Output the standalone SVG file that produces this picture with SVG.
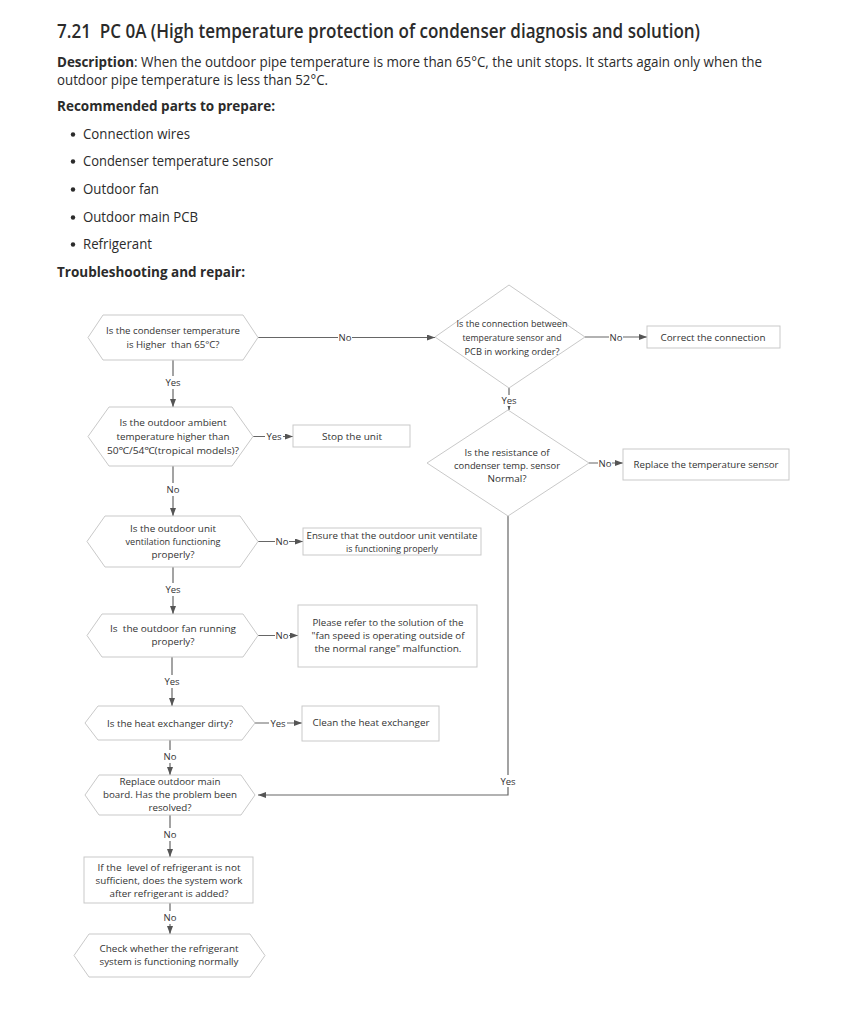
<svg xmlns="http://www.w3.org/2000/svg" width="864" height="1024" viewBox="0 0 864 1024">
<style>
  .h{font-family:"Open Sans","Noto Sans",sans-serif;fill:#2b2b2b}
  .t{font-family:"Open Sans","Noto Sans",sans-serif;font-size:9.5px;fill:#333;text-anchor:middle}
  .lbl{font-family:"Open Sans","Noto Sans",sans-serif;font-size:9.5px;fill:#333;text-anchor:middle}
  .bg{fill:#fff;stroke:none}
  .shape{fill:#fff;stroke:#c9c9c9;stroke-width:1}
  .conn{fill:none;stroke:#666;stroke-width:1.2}
</style>
<defs>
  <marker id="ah" markerWidth="8" markerHeight="6" refX="8" refY="3" orient="auto" markerUnits="userSpaceOnUse">
    <path d="M0,0 L8,3 L0,6 z" fill="#555"/>
  </marker>
</defs>
<rect width="864" height="1024" fill="#fff"/>

<g id="header">
  <text class="h" x="57" y="38" font-size="19" font-weight="600" textLength="643" lengthAdjust="spacingAndGlyphs" xml:space="preserve">7.21  PC 0A (High temperature protection of condenser diagnosis and solution)</text>
  <text class="h" x="57" y="67" font-size="14" font-weight="700" textLength="77" lengthAdjust="spacingAndGlyphs">Description</text>
  <text class="h" x="134" y="67" font-size="14" textLength="628" lengthAdjust="spacingAndGlyphs">: When the outdoor pipe temperature is more than 65°C, the unit stops. It starts again only when the</text>
  <text class="h" x="57" y="85" font-size="14" textLength="271" lengthAdjust="spacingAndGlyphs">outdoor pipe temperature is less than 52°C.</text>
  <text class="h" x="57" y="111" font-size="14" font-weight="700" textLength="218" lengthAdjust="spacingAndGlyphs">Recommended parts to prepare:</text>
  <circle cx="73" cy="134.5" r="2.2" fill="#2b2b2b"/>
  <text class="h" x="83" y="139" font-size="14" textLength="107" lengthAdjust="spacingAndGlyphs">Connection wires</text>
  <circle cx="73" cy="161.5" r="2.2" fill="#2b2b2b"/>
  <text class="h" x="83" y="166" font-size="14" textLength="190" lengthAdjust="spacingAndGlyphs">Condenser temperature sensor</text>
  <circle cx="73" cy="189.5" r="2.2" fill="#2b2b2b"/>
  <text class="h" x="83" y="194" font-size="14" textLength="76" lengthAdjust="spacingAndGlyphs">Outdoor fan</text>
  <circle cx="73" cy="217.5" r="2.2" fill="#2b2b2b"/>
  <text class="h" x="83" y="222" font-size="14" textLength="115" lengthAdjust="spacingAndGlyphs">Outdoor main PCB</text>
  <circle cx="73" cy="244.5" r="2.2" fill="#2b2b2b"/>
  <text class="h" x="83" y="249" font-size="14" textLength="69" lengthAdjust="spacingAndGlyphs">Refrigerant</text>
  <text class="h" x="57" y="277" font-size="14" font-weight="700" textLength="188" lengthAdjust="spacingAndGlyphs">Troubleshooting and repair:</text>
</g>

<g id="connectors">
  <line class="conn" x1="173" y1="360" x2="173" y2="407" marker-end="url(#ah)"/>
  <rect class="bg" x="163" y="376" width="20" height="13"/>
  <text class="lbl" x="173" y="386">Yes</text>
  <line class="conn" x1="173" y1="466" x2="173" y2="516" marker-end="url(#ah)"/>
  <rect class="bg" x="164" y="483" width="18" height="13"/>
  <text class="lbl" x="173" y="493">No</text>
  <line class="conn" x1="173" y1="567" x2="173" y2="614" marker-end="url(#ah)"/>
  <rect class="bg" x="163" y="583" width="20" height="13"/>
  <text class="lbl" x="173" y="593">Yes</text>
  <line class="conn" x1="172" y1="657" x2="172" y2="706" marker-end="url(#ah)"/>
  <rect class="bg" x="162" y="675" width="20" height="13"/>
  <text class="lbl" x="172" y="685">Yes</text>
  <line class="conn" x1="170" y1="740" x2="170" y2="775" marker-end="url(#ah)"/>
  <rect class="bg" x="161" y="750" width="18" height="13"/>
  <text class="lbl" x="170" y="760">No</text>
  <line class="conn" x1="170" y1="815" x2="170" y2="857" marker-end="url(#ah)"/>
  <rect class="bg" x="161" y="828" width="18" height="13"/>
  <text class="lbl" x="170" y="838">No</text>
  <line class="conn" x1="170" y1="903" x2="170" y2="934" marker-end="url(#ah)"/>
  <rect class="bg" x="161" y="911" width="18" height="13"/>
  <text class="lbl" x="170" y="921">No</text>

  <line class="conn" x1="258" y1="337.5" x2="435" y2="337.5" marker-end="url(#ah)"/>
  <rect class="bg" x="338" y="332" width="14" height="11"/>
  <text class="lbl" x="345" y="341">No</text>
  <line class="conn" x1="585" y1="337" x2="647" y2="337" marker-end="url(#ah)"/>
  <rect class="bg" x="609" y="332" width="14" height="11"/>
  <text class="lbl" x="616" y="340.5">No</text>
  <line class="conn" x1="509" y1="388" x2="509" y2="410" marker-end="url(#ah)"/>
  <rect class="bg" x="499" y="395" width="20" height="11"/>
  <text class="lbl" x="509" y="404">Yes</text>
  <line class="conn" x1="589" y1="463" x2="623" y2="463" marker-end="url(#ah)"/>
  <rect class="bg" x="598" y="458" width="14" height="11"/>
  <text class="lbl" x="605" y="466.5">No</text>
  <polyline class="conn" points="508,516 508,795 258,795" marker-end="url(#ah)"/>
  <rect class="bg" x="498" y="775" width="20" height="12"/>
  <text class="lbl" x="508" y="784.5">Yes</text>

  <line class="conn" x1="253" y1="436.5" x2="293" y2="436.5" marker-end="url(#ah)"/>
  <rect class="bg" x="265" y="431" width="18" height="11"/>
  <text class="lbl" x="274" y="440">Yes</text>
  <line class="conn" x1="258" y1="541.5" x2="303" y2="541.5" marker-end="url(#ah)"/>
  <rect class="bg" x="275" y="536" width="14" height="11"/>
  <text class="lbl" x="282" y="545">No</text>
  <line class="conn" x1="258" y1="635.5" x2="298" y2="635.5" marker-end="url(#ah)"/>
  <rect class="bg" x="275" y="630" width="14" height="11"/>
  <text class="lbl" x="282" y="639">No</text>
  <line class="conn" x1="255" y1="723" x2="302" y2="723" marker-end="url(#ah)"/>
  <rect class="bg" x="269" y="718" width="18" height="11"/>
  <text class="lbl" x="278" y="726.5">Yes</text>
</g>

<g id="q1">
  <polygon class="shape" points="88,337.5 103,315 243,315 258,337.5 243,360 103,360"/>
  <text class="t" x="173" y="334" textLength="134" lengthAdjust="spacingAndGlyphs">Is the condenser temperature</text>
  <text class="t" x="173" y="348" textLength="93" lengthAdjust="spacingAndGlyphs" xml:space="preserve">is Higher  than 65°C?</text>
</g>

<g id="q_connection">
  <polygon class="shape" points="435,337 509,285 585,337 509,388"/>
  <text class="t" x="512" y="327" textLength="111" lengthAdjust="spacingAndGlyphs">Is the connection between</text>
  <text class="t" x="512" y="341" textLength="99" lengthAdjust="spacingAndGlyphs">temperature sensor and</text>
  <text class="t" x="512" y="355" textLength="95" lengthAdjust="spacingAndGlyphs">PCB in working order?</text>
</g>

<g id="a_correct">
  <rect class="shape" x="647" y="326" width="133" height="22"/>
  <text class="t" x="713" y="341" textLength="105" lengthAdjust="spacingAndGlyphs">Correct the connection</text>
</g>

<g id="q_resistance">
  <polygon class="shape" points="427,463 508,410 589,463 508,516"/>
  <text class="t" x="507" y="456" textLength="85" lengthAdjust="spacingAndGlyphs">Is the resistance of</text>
  <text class="t" x="507" y="469" textLength="106" lengthAdjust="spacingAndGlyphs">condenser temp. sensor</text>
  <text class="t" x="507" y="482" textLength="39" lengthAdjust="spacingAndGlyphs">Normal?</text>
</g>

<g id="a_replace_sensor">
  <rect class="shape" x="623" y="449" width="166" height="31"/>
  <text class="t" x="706" y="468" textLength="145" lengthAdjust="spacingAndGlyphs">Replace the temperature sensor</text>
</g>

<g id="q_ambient">
  <polygon class="shape" points="88,436.5 109,407 232,407 253,436.5 232,466 109,466"/>
  <text class="t" x="173" y="426" textLength="107" lengthAdjust="spacingAndGlyphs">Is the outdoor ambient</text>
  <text class="t" x="173" y="440" textLength="113" lengthAdjust="spacingAndGlyphs">temperature higher than</text>
  <text class="t" x="173" y="454" textLength="132" lengthAdjust="spacingAndGlyphs">50℃/54℃(tropical models)?</text>
</g>

<g id="a_stop">
  <rect class="shape" x="293" y="425" width="117" height="22"/>
  <text class="t" x="352" y="440" textLength="60" lengthAdjust="spacingAndGlyphs">Stop the unit</text>
</g>

<g id="q_ventilation">
  <polygon class="shape" points="87,541.5 105,516 240,516 258,541.5 240,567 105,567"/>
  <text class="t" x="173" y="532" textLength="86" lengthAdjust="spacingAndGlyphs">Is the outdoor unit</text>
  <text class="t" x="173" y="545" textLength="95" lengthAdjust="spacingAndGlyphs">ventilation functioning</text>
  <text class="t" x="173" y="558" textLength="43" lengthAdjust="spacingAndGlyphs">properly?</text>
</g>

<g id="a_ventilate">
  <rect class="shape" x="303" y="528" width="178" height="27"/>
  <text class="t" x="392" y="539" textLength="171" lengthAdjust="spacingAndGlyphs">Ensure that the outdoor unit ventilate</text>
  <text class="t" x="392" y="552" textLength="92" lengthAdjust="spacingAndGlyphs">is functioning properly</text>
</g>

<g id="q_fan">
  <polygon class="shape" points="87,635.5 102,614 243,614 258,635.5 243,657 102,657"/>
  <text class="t" x="173" y="632" textLength="126" lengthAdjust="spacingAndGlyphs" xml:space="preserve">Is  the outdoor fan running</text>
  <text class="t" x="173" y="645" textLength="43" lengthAdjust="spacingAndGlyphs">properly?</text>
</g>

<g id="a_fan">
  <rect class="shape" x="298" y="605" width="179" height="62"/>
  <text class="t" x="388" y="626" textLength="151" lengthAdjust="spacingAndGlyphs">Please refer to the solution of the</text>
  <text class="t" x="388" y="639" textLength="153" lengthAdjust="spacingAndGlyphs">"fan speed is operating outside of</text>
  <text class="t" x="388" y="652" textLength="147" lengthAdjust="spacingAndGlyphs">the normal range" malfunction.</text>
</g>

<g id="q_dirty">
  <polygon class="shape" points="85,723 98,706 242,706 255,723 242,740 98,740"/>
  <text class="t" x="170" y="727" textLength="126" lengthAdjust="spacingAndGlyphs">Is the heat exchanger dirty?</text>
</g>

<g id="a_clean">
  <rect class="shape" x="302" y="706" width="137" height="35"/>
  <text class="t" x="371" y="726" textLength="117" lengthAdjust="spacingAndGlyphs">Clean the heat exchanger</text>
</g>

<g id="q_mainboard">
  <polygon class="shape" points="85,795 99,775 241,775 255,795 241,815 99,815"/>
  <text class="t" x="170" y="785" textLength="101" lengthAdjust="spacingAndGlyphs">Replace outdoor main</text>
  <text class="t" x="170" y="798" textLength="134" lengthAdjust="spacingAndGlyphs">board. Has the problem been</text>
  <text class="t" x="170" y="811" textLength="43" lengthAdjust="spacingAndGlyphs">resolved?</text>
</g>

<g id="q_refrigerant">
  <rect class="shape" x="84" y="857" width="169" height="46"/>
  <text class="t" x="169" y="871" textLength="143" lengthAdjust="spacingAndGlyphs" xml:space="preserve">If the  level of refrigerant is not</text>
  <text class="t" x="169" y="884" textLength="147" lengthAdjust="spacingAndGlyphs">sufficient, does the system work</text>
  <text class="t" x="169" y="897" textLength="119" lengthAdjust="spacingAndGlyphs">after refrigerant is added?</text>
</g>

<g id="a_check_system">
  <polygon class="shape" points="74,955.5 89,934 250,934 265,955.5 250,977 89,977"/>
  <text class="t" x="169" y="952" textLength="139" lengthAdjust="spacingAndGlyphs">Check whether the refrigerant</text>
  <text class="t" x="169" y="965" textLength="139" lengthAdjust="spacingAndGlyphs">system is functioning normally</text>
</g>
</svg>
